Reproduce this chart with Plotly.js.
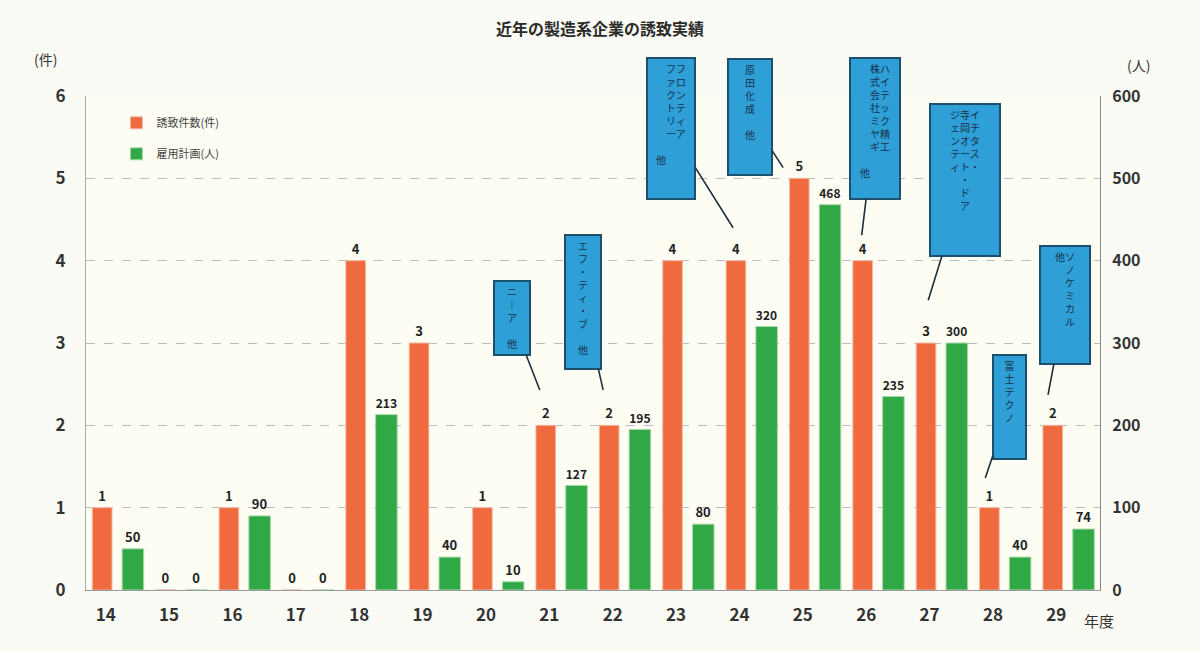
<!DOCTYPE html>
<html><head><meta charset="utf-8">
<script src="https://cdn.plot.ly/plotly-3.0.1.min.js"></script>
<style>html,body{margin:0;padding:0;background:#fbfbf5;}#chart{width:1200px;height:652px;}</style>
</head><body><div id="chart"></div>
<script>
// ---- data ----
const years = ['14','15','16','17','18','19','20','21','22','23','24','25','26','27','28','29'];
const cases = [1,0,1,0,4,3,1,2,2,4,4,5,4,3,1,2];
const jobs = [50,0,90,0,213,40,10,127,195,80,320,468,235,300,40,74];
const seriesNames = ['誘致件数(件)','雇用計画(人)'];
// callout texts: columns listed right-to-left (vertical Japanese)
const calloutTexts = [
  ['ニ｜ア　他'],
  ['エフ・ティ・ブ　他'],
  ['フロンティア','ファクトリー','　　　　　　　他'],
  ['原田化成　他'],
  ['ハイテック精工','株式会社ミヤギ','　　　　　　　　他'],
  ['イチタス・','寺岡オート・ドア','ジェンティ'],
  ['富士テクノ'],
  ['ソノケミカル','他']
];

function vert(cols){
  const arr = cols.map(c => Array.from(c));
  const n = Math.max(...arr.map(a => a.length));
  const rows = [];
  for(let r=0;r<n;r++){
    const row=[];
    for(let c=arr.length-1;c>=0;c--){ row.push(arr[c][r]||'　'); }
    rows.push(row.join(''));
  }
  return rows.join('<br>');
}

const FONT = '"Noto Sans CJK JP", "Noto Sans", sans-serif';
const orange = '#ef6a3e';
const green = '#31a846';

const traces = [
  {type:'bar', name:seriesNames[0], x:years, y:cases, yaxis:'y', legendgroup:'a',
   marker:{color:orange, line:{color:'#f4b8a0', width:1}}, width:0.31, offset:-0.40,
   text:cases.map(String), textposition:'outside', cliponaxis:false,
   textfont:{family:FONT, size:13, color:'#222', weight:'bold'}},
  {type:'bar', name:seriesNames[1], x:years, y:jobs, yaxis:'y2', legendgroup:'b',
   marker:{color:green, line:{color:'#a8d8a8', width:1}}, width:0.34, offset:0.07,
   text:jobs.map(String), textposition:'outside', cliponaxis:false,
   textfont:{family:FONT, size:13, color:'#222', weight:'bold'}}
];

// callout geometry: tip (category index, y value), offset of box centre (px), box size (px)
const callGeom = [
  [6.66,2.43,-28,-72,30,68],
  [7.66,2.43,-20,-88,30,128],
  [9.71,4.40,-62,-99,42,135],
  [10.5,5.13,-33,-51,38,110],
  [11.74,4.31,13,-107,44,135],
  [12.79,3.52,37,-120,64,146],
  [13.69,1.36,24,-71,27,98],
  [14.68,2.37,17,-90,44,112]
];
const annotations = callGeom.map((g,i)=>({
  xref:'x', yref:'y', x:g[0], y:g[1], axref:'pixel', ayref:'pixel', ax:g[2], ay:g[3],
  text:vert(calloutTexts[i]), showarrow:true, arrowhead:0, arrowwidth:1.6, arrowcolor:'#1d2f3d',
  standoff:0, startstandoff:0, bgcolor:'#2f9fd8', bordercolor:'#1d4f6e', borderwidth:2, borderpad:2,
  width:g[4], height:g[5], valign:'top', align:'center',
  font:{family:FONT, size:10, color:'#16324a'}
}));
annotations.push(
  {xref:'paper', yref:'paper', x:-0.040, y:1.075, xanchor:'center', yanchor:'middle', text:'(件)', showarrow:false, font:{family:FONT,size:14,color:'#333'}},
  {xref:'paper', yref:'paper', x:1.0375, y:1.062, xanchor:'center', yanchor:'middle', text:'(人)', showarrow:false, font:{family:FONT,size:14,color:'#333'}},
  {xref:'paper', yref:'paper', x:0.999, y:-0.061, xanchor:'center', yanchor:'middle', text:'年度', showarrow:false, font:{family:FONT,size:15,color:'#333'}}
);

const layout = {
  width:1200, height:652,
  paper_bgcolor:'#fbfbf5', plot_bgcolor:'#fdfdf3',
  margin:{l:86, r:100, t:96, b:62},
  title:{text:'<b>近年の製造系企業の誘致実績</b>', x:0.5, xanchor:'center', y:0.955, yanchor:'middle', yref:'container',
         font:{family:FONT, size:16, color:'#2a2a2a'}},
  showlegend:true,
  legend:{x:0.03, y:0.975, xanchor:'left', yanchor:'top', bgcolor:'rgba(0,0,0,0)',
          font:{family:FONT, size:11, color:'#444'}, tracegroupgap:12, traceorder:'grouped'},
  bargap:0.2,
  xaxis:{type:'category', showgrid:false, showline:true, linecolor:'#999', ticks:'',
         tickfont:{family:FONT, size:17, color:'#333', weight:'bold'}, ticklabelshift:-12, ticklabelstandoff:10,
         range:[-0.5,15.5], fixedrange:true},
  yaxis:{range:[0,6], dtick:1, showline:true, linecolor:'#aaa', showgrid:true, gridcolor:'#bdbdbd', griddash:'dash', gridwidth:1,
         zeroline:false, ticks:'', tickfont:{family:FONT, size:17, color:'#333', weight:'bold'}, ticklabelstandoff:16},
  yaxis2:{range:[0,600], dtick:100, overlaying:'y', side:'right', showgrid:false, showline:true, linecolor:'#888',
          zeroline:false, ticks:'', tickfont:{family:FONT, size:16, color:'#333', weight:'bold'}, ticklabelstandoff:8},
  annotations:annotations
};

Plotly.newPlot('chart', traces, layout, {staticPlot:true});
</script>
</body></html>
